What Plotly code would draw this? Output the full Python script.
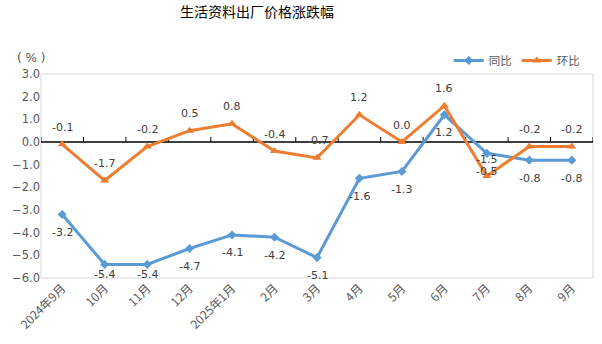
import plotly.graph_objects as go

categories = ["2024年9月", "10月", "11月", "12月", "2025年1月", "2月", "3月",
              "4月", "5月", "6月", "7月", "8月", "9月"]
yoy = [-3.2, -5.4, -5.4, -4.7, -4.1, -4.2, -5.1, -1.6, -1.3, 1.2, -0.5, -0.8, -0.8]
mom = [-0.1, -1.7, -0.2, 0.5, 0.8, -0.4, -0.7, 1.2, 0.0, 1.6, -1.5, -0.2, -0.2]
y_ticks = [3.0, 2.0, 1.0, 0.0, -1.0, -2.0, -3.0, -4.0, -5.0, -6.0]

FONT = "DejaVu Sans, Noto Sans CJK SC, sans-serif"
CJK = "Noto Sans CJK SC, DejaVu Sans, sans-serif"
BLUE = "#5B9BD5"
ORANGE = "#ED7D31"
LABEL = "#404040"
xs = list(range(len(categories)))

Y_MIN, Y_MAX = -6, 3
PLOT_H = 344 - 74 - 66
PX_PER_UNIT = PLOT_H / (Y_MAX - Y_MIN)

fig = go.Figure()
fig.add_trace(go.Scatter(
    x=xs, y=yoy, name="同比", mode="lines+markers",
    line=dict(color=BLUE, width=3),
    marker=dict(symbol="diamond", size=7, color=BLUE),
    cliponaxis=False,
))
fig.add_trace(go.Scatter(
    x=xs, y=mom, name="环比", mode="lines+markers",
    line=dict(color=ORANGE, width=3),
    marker=dict(symbol="triangle-up", size=8, color=ORANGE),
    cliponaxis=False,
))

annotations = []
for i, v in enumerate(yoy):
    # distance of point above bottom edge, in px; keep label inside plot
    above_bottom = (v - Y_MIN) * PX_PER_UNIT
    shift = -min(18, above_bottom - 3)
    annotations.append(dict(x=i, y=v, xref="x", yref="y", text=f"{v:.1f}", showarrow=False,
                            yshift=shift, font=dict(family=FONT, size=11, color=LABEL)))
for i, v in enumerate(mom):
    annotations.append(dict(x=i, y=v, xref="x", yref="y", text=f"{v:.1f}", showarrow=False,
                            yshift=17, font=dict(family=FONT, size=11, color=LABEL)))
annotations.append(dict(text="( % )", xref="paper", yref="paper", x=-10 / 552, y=1.035,
                        xanchor="center", yanchor="bottom", showarrow=False,
                        font=dict(family=FONT, size=12, color="#595959")))

# zero axis line with category-boundary ticks
shapes = [dict(type="line", xref="x", yref="y", x0=-0.5, x1=len(categories) - 0.5,
               y0=0, y1=0, line=dict(color="black", width=1.3), layer="below")]
for k in range(len(categories) + 1):
    shapes.append(dict(type="line", xref="x", yref="y", x0=k - 0.5, x1=k - 0.5,
                       y0=0, y1=0.22, line=dict(color="black", width=1), layer="below"))
# plot border
shapes.append(dict(type="rect", xref="paper", yref="paper", x0=0, x1=1, y0=0, y1=1,
                   line=dict(color="#D9D9D9", width=1), layer="below"))

fig.update_layout(
    width=602, height=344,
    margin=dict(l=41, r=9, t=74, b=66),
    paper_bgcolor="white", plot_bgcolor="white",
    title=dict(text="生活资料出厂价格涨跌幅", x=257 / 602, xanchor="center", y=0.978, yanchor="top",
               font=dict(family=CJK, size=14, color="#000000")),
    showlegend=True,
    legend=dict(orientation="h", x=0.985, xanchor="right", y=0.995, yanchor="bottom",
                font=dict(family=CJK, size=11.5, color="#595959"),
                bgcolor="rgba(0,0,0,0)", itemwidth=30, tracegroupgap=0),
    xaxis=dict(tickmode="array", tickvals=xs, ticktext=categories, range=[-0.5, len(categories) - 0.5],
               tickangle=-45, showgrid=False, zeroline=False, showline=False, ticks="",
               tickfont=dict(family=CJK, size=12, color="#595959")),
    yaxis=dict(range=[Y_MIN, Y_MAX], tickvals=y_ticks, tickformat=".1f", showgrid=False,
               zeroline=False, showline=False, ticks="",
               tickfont=dict(family=FONT, size=11.5, color="#595959")),
    shapes=shapes,
    annotations=annotations,
)

fig.write_html("out.html")
